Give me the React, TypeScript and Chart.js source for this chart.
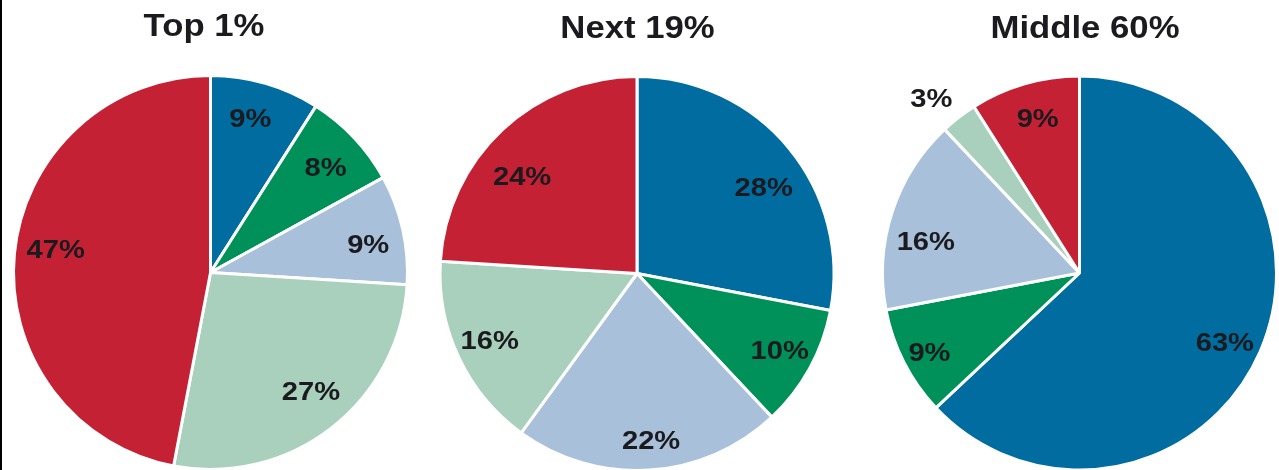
import React, { useEffect, useRef } from "react";
import { Chart, registerables } from "chart.js";

Chart.register(...registerables);

// ---- data ----
const categories = ["Segment A", "Segment B", "Segment C", "Segment D", "Segment E"];
const titles = ["Top 1%", "Next 19%", "Middle 60%"];
const top1Values = [9, 8, 9, 27, 47];
const next19Values = [28, 10, 22, 16, 24];
const middle60Values = [63, 9, 16, 3, 9];

// ---- style ----
const COLORS = ["#006ca0", "#00915a", "#a9c0da", "#a9d0bc", "#c42134"];
const TEXT = "#1b1b1f";
const FONT = '"Liberation Sans", Arial, Helvetica, sans-serif';
const BW = 3;
const R = 195.5;
const CH = 480;

type PieSpec = {
  title: string;
  values: number[];
  left: number;
  width: number;
  cx: number;
  cy: number;
  titleX: number;
  titleY: number;
  outside: number[];
  nudge: number[][];
};

const pies: PieSpec[] = [
  {
    title: titles[0], values: top1Values, left: 0, width: 424, cx: 210.5, cy: 272.5, titleX: 204, titleY: 36, outside: [],
    nudge: [[-5, 1], [-2, 5], [1, 7], [2, -8], [5, -8]],
  },
  {
    title: titles[1], values: next19Values, left: 424, width: 434, cx: 213, cy: 273.5, titleX: 213.5, titleY: 38, outside: [],
    nudge: [[3, 17], [2, 0], [4, 7], [-2, -1], [-5, 20]],
  },
  {
    title: titles[2], values: middle60Values, left: 858, width: 421, cx: 221.5, cy: 273, titleX: 227, titleY: 38, outside: [3],
    nudge: [[-2, 6], [-7, 7], [-1, 18], [-7, 8], [3, 0]],
  },
];

function PieChart({ spec }: { spec: PieSpec }) {
  const ref = useRef<HTMLCanvasElement | null>(null);
  useEffect(() => {
    if (!ref.current) return;
    const full = R + BW;
    const textPlugin = {
      id: "pieText",
      afterDatasetsDraw(chart: any) {
        const ctx = chart.ctx as CanvasRenderingContext2D;
        const meta = chart.getDatasetMeta(0);
        ctx.save();
        ctx.fillStyle = TEXT;
        ctx.textAlign = "center";
        ctx.textBaseline = "middle";
        ctx.font = `bold 26px ${FONT}`;
        meta.data.forEach((arc: any, i: number) => {
          const p = arc.getProps(["x", "y", "startAngle", "endAngle", "outerRadius"], true);
          const mid = (p.startAngle + p.endAngle) / 2;
          const f = spec.outside.includes(i) ? 1.17 : 0.815;
          const n = spec.nudge[i] || [0, 0];
          const x = p.x + Math.cos(mid) * p.outerRadius * f + n[0];
          const y = p.y + Math.sin(mid) * p.outerRadius * f + n[1];
          ctx.save();
          ctx.translate(x, y + 1);
          ctx.scale(1.12, 1);
          ctx.fillText(`${spec.values[i]}%`, 0, 0);
          ctx.restore();
        });
        ctx.font = `bold 31px ${FONT}`;
        ctx.textBaseline = "alphabetic";
        ctx.save();
        ctx.translate(spec.titleX, spec.titleY);
        ctx.scale(1.12, 1);
        ctx.fillText(spec.title, 0, 0);
        ctx.restore();
        ctx.restore();
      },
    };
    const chart = new Chart(ref.current, {
      type: "pie",
      data: {
        labels: categories,
        datasets: [
          {
            data: spec.values,
            backgroundColor: COLORS,
            borderColor: "#ffffff",
            borderWidth: BW,
          },
        ],
      },
      options: {
        responsive: false,
        animation: false,
        events: [],
        layout: {
          autoPadding: false,
          padding: {
            left: spec.cx - full,
            right: spec.width - (spec.cx + full),
            top: spec.cy - full,
            bottom: CH - (spec.cy + full),
          },
        },
        plugins: {
          legend: { display: false },
          tooltip: { enabled: false },
          title: { display: false },
        },
      },
      plugins: [textPlugin],
    });
    return () => chart.destroy();
  }, [spec]);
  return (
    <canvas
      ref={ref}
      width={spec.width}
      height={CH}
      style={{ position: "absolute", left: spec.left, top: 0, width: spec.width, height: CH }}
    />
  );
}

export default function App() {
  return (
    <div
      style={{
        position: "absolute",
        left: 0,
        top: 0,
        width: 1279,
        height: 470,
        overflow: "hidden",
        background: "#ffffff",
      }}
    >
      {pies.map((p) => (
        <PieChart key={p.title} spec={p} />
      ))}
      <div style={{ position: "absolute", left: 0, top: 0, width: 2, height: 470, background: "#000" }} />
    </div>
  );
}
